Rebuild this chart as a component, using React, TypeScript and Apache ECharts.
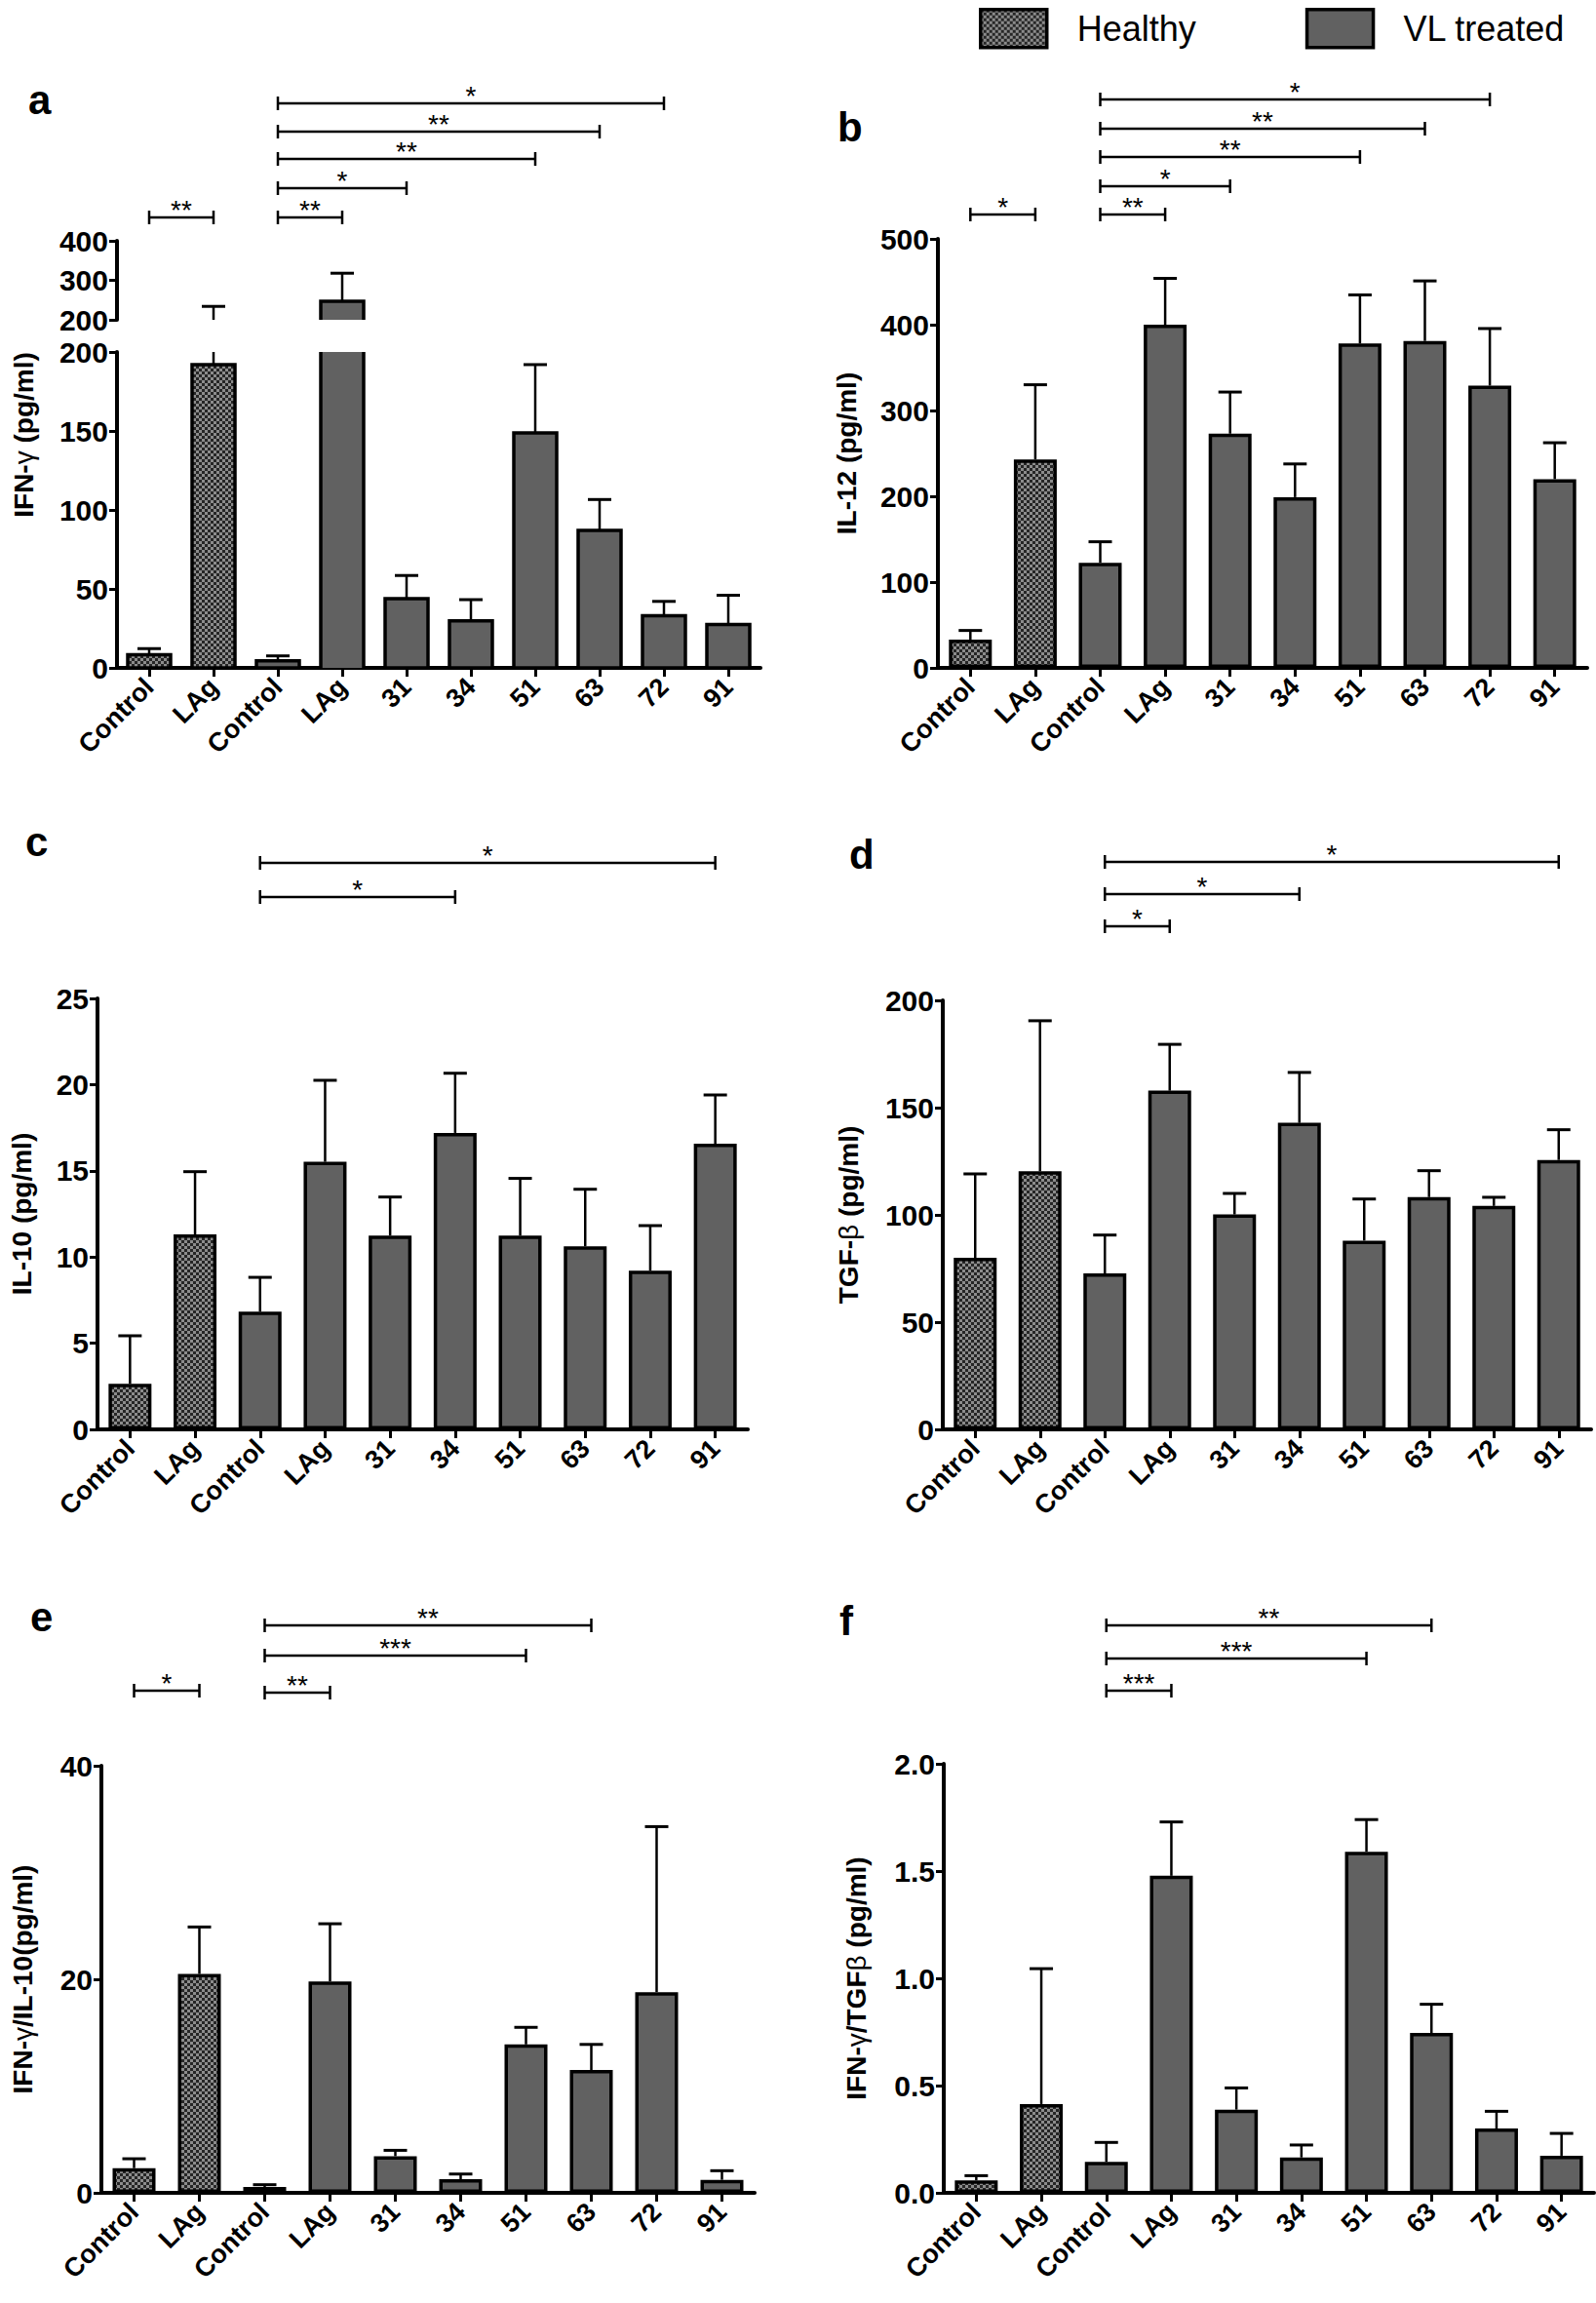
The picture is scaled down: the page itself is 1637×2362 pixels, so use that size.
import React, { useEffect, useRef } from "react";
import * as echarts from "echarts";

// ---------------- data ----------------
const categories = ["Control", "LAg", "Control", "LAg", "31", "34", "51", "63", "72", "91"];
const healthyCount = 2; // first two categories are the healthy group

const ifnMean = [8.3, 192, 4.5, 247, 43.8, 29.8, 148.8, 87, 33, 27.5];
const ifnErr = [12.2, 234, 7.6, 318, 58.5, 43.2, 192, 106.6, 42.1, 46];

const il12Mean = [33, 243, 122.5, 400, 273, 199, 378, 381, 329, 220];
const il12Err = [43.6, 330, 147, 454, 321.5, 237.7, 434.7, 451, 395.5, 262.4];

const il10Mean = [2.64, 11.31, 6.83, 15.52, 11.24, 17.2, 11.24, 10.62, 9.2, 16.57];
const il10Err = [5.43, 14.95, 8.82, 20.25, 13.48, 20.66, 14.56, 13.93, 11.82, 19.4];

const tgfMean = [80, 120.3, 72.7, 157.9, 100.2, 142.9, 88, 108.3, 104.2, 125.6];
const tgfErr = [119.1, 190.5, 90.6, 179.5, 110, 166.4, 107.4, 120.6, 108.2, 139.7];

const ifnIl10Mean = [2.31, 20.5, 0.55, 19.8, 3.43, 1.28, 13.9, 11.5, 18.8, 1.22];
const ifnIl10Err = [3.19, 24.9, 0.76, 25.2, 3.98, 1.76, 15.5, 13.9, 34.3, 2.07];

const ifnTgfMean = [0.058, 0.414, 0.144, 1.478, 0.388, 0.165, 1.59, 0.745, 0.3, 0.173];
const ifnTgfErr = [0.08, 1.045, 0.235, 1.729, 0.489, 0.223, 1.74, 0.879, 0.38, 0.277];

// significance: [from category, to category, label]
const sigA: [number, number, string][] = [[2, 8, "*"], [2, 7, "**"], [2, 6, "**"], [2, 4, "*"], [2, 3, "**"], [0, 1, "**"]];
const sigB: [number, number, string][] = [[2, 8, "*"], [2, 7, "**"], [2, 6, "**"], [2, 4, "*"], [2, 3, "**"], [0, 1, "*"]];
const sigC: [number, number, string][] = [[2, 9, "*"], [2, 5, "*"]];
const sigD: [number, number, string][] = [[2, 9, "*"], [2, 5, "*"], [2, 3, "*"]];
const sigE: [number, number, string][] = [[2, 7, "**"], [2, 6, "***"], [0, 1, "*"], [2, 3, "**"]];
const sigF: [number, number, string][] = [[2, 7, "**"], [2, 6, "***"], [2, 3, "***"]];

const seriesNames = ["Healthy", "VL treated"];

// ---------------- layout / style ----------------
const FONT = '"Liberation Sans", Arial, Helvetica, sans-serif';
const BAR_GRAY = "#616161";
const BAR_HALF = 22;
const BORDER = 3.5;

function checkerPattern() {
  const c = document.createElement("canvas");
  c.width = 6;
  c.height = 6;
  const ctx = c.getContext("2d")!;
  ctx.fillStyle = "#8c8c8c";
  ctx.fillRect(0, 0, 6, 6);
  ctx.fillStyle = "#262626";
  ctx.fillRect(0, 0, 3, 3);
  ctx.fillRect(3, 3, 3, 3);
  return { image: c, repeat: "repeat", imageWidth: 6, imageHeight: 6 } as any;
}

const greek = { fontWeight: "normal", fontSize: 28, fontFamily: FONT, color: "#000" };

export default function App() {
  const ref = useRef<HTMLDivElement>(null);

  useEffect(() => {
    if (!ref.current) return;
    const chart = echarts.init(ref.current, undefined, { renderer: "svg" });
    const pattern = checkerPattern();
    const yTickSize = 30;
    const xTickSize = 27;

    const grids: any[] = [];
    const xAxes: any[] = [];
    const yAxes: any[] = [];
    const series: any[] = [];

    const addGrid = (
      box: { left: number; top: number; width: number; height: number },
      y: { min: number; max: number; interval: number; fmt?: (v: number) => string },
      showX: boolean,
      name?: { text: string; gap: number }
    ) => {
      const gi = grids.length;
      grids.push({ ...box, containLabel: false });
      xAxes.push({
        gridIndex: gi,
        type: "category",
        data: categories,
        show: showX,
        axisLine: { show: true, lineStyle: { color: "#000", width: 4 } },
        axisTick: { show: true, alignWithLabel: true, length: 9, lineStyle: { color: "#000", width: 3 } },
        axisLabel: {
          interval: 0,
          rotate: 45,
          margin: 15,
          color: "#000",
          fontSize: xTickSize,
          fontWeight: "bold",
          fontFamily: FONT,
        },
        splitLine: { show: false },
      });
      yAxes.push({
        gridIndex: gi,
        type: "value",
        min: y.min,
        max: y.max,
        interval: y.interval,
        axisLine: { show: true, lineStyle: { color: "#000", width: 4 } },
        axisTick: { show: true, length: 8, lineStyle: { color: "#000", width: 3 } },
        axisLabel: {
          margin: 9,
          color: "#000",
          fontSize: yTickSize,
          fontWeight: "bold",
          fontFamily: FONT,
          formatter: y.fmt ? (v: number) => y.fmt!(v) : undefined,
        },
        splitLine: { show: false },
        name: name ? name.text : undefined,
        nameLocation: "middle",
        nameRotate: 90,
        nameGap: name ? name.gap : 0,
        nameTextStyle: {
          color: "#000",
          fontSize: 28,
          fontWeight: "bold",
          fontFamily: FONT,
          rich: { g: greek },
        },
      });
      return gi;
    };

    const errSeries = (gi: number, mean: number[], err: number[], segMin: number, segMax: number) => ({
      type: "custom",
      name: "error" + gi,
      xAxisIndex: gi,
      yAxisIndex: gi,
      z: 1,
      silent: true,
      data: mean.map((m, k) => [k, m, err[k]]),
      renderItem: (_p: any, api: any) => {
        const idx = api.value(0);
        const m = api.value(1);
        const e = api.value(2);
        const lo = Math.max(m, segMin);
        const hi = Math.min(e, segMax);
        if (!(hi > lo)) return null;
        const p0 = api.coord([idx, lo]);
        const p1 = api.coord([idx, hi]);
        const children: any[] = [
          { type: "line", shape: { x1: p0[0], y1: p0[1], x2: p1[0], y2: p1[1] }, style: { stroke: "#000", lineWidth: 2.5 } },
        ];
        if (e <= segMax) {
          children.push({
            type: "line",
            shape: { x1: p1[0] - 12, y1: p1[1], x2: p1[0] + 12, y2: p1[1] },
            style: { stroke: "#000", lineWidth: 3 },
          });
        }
        return { type: "group", children };
      },
    });

    const barPair = (gi: number, mean: number[]) => {
      series.push({
        type: "bar",
        name: seriesNames[0],
        xAxisIndex: gi,
        yAxisIndex: gi,
        barWidth: BAR_HALF * 2,
        barGap: "-100%",
        z: 2,
        data: mean.map((v, k) => (k < healthyCount ? v : "-")),
        itemStyle: { color: pattern, borderColor: "#000", borderWidth: BORDER },
      });
      series.push({
        type: "bar",
        name: seriesNames[1],
        xAxisIndex: gi,
        yAxisIndex: gi,
        barWidth: BAR_HALF * 2,
        barGap: "-100%",
        z: 2,
        data: mean.map((v, k) => (k >= healthyCount ? v : "-")),
        itemStyle: { color: BAR_GRAY, borderColor: "#000", borderWidth: BORDER },
      });
    };

    // bars for the broken axis panel (open edges at the break)
    const segBars = (gi: number, items: number[][], fill: any, segMin: number, segMax: number, name: string) => ({
      type: "custom",
      name,
      xAxisIndex: gi,
      yAxisIndex: gi,
      z: 2,
      data: items,
      renderItem: (_p: any, api: any) => {
        const idx = api.value(0);
        const v = api.value(1);
        const hi = Math.min(v, segMax);
        if (!(hi > segMin)) return null;
        const pLo = api.coord([idx, segMin]);
        const pHi = api.coord([idx, hi]);
        const x0 = pLo[0] - BAR_HALF;
        const x1 = pLo[0] + BAR_HALF;
        const yLo = pLo[1];
        const yHi = pHi[1];
        const edge = { stroke: "#000", lineWidth: BORDER, fill: "none" };
        if (v <= segMax && segMin === 0) {
          return {
            type: "rect",
            shape: { x: x0, y: yHi, width: x1 - x0, height: yLo - yHi },
            style: { fill, stroke: "#000", lineWidth: BORDER },
          };
        }
        const children: any[] = [
          { type: "rect", shape: { x: x0, y: yHi, width: x1 - x0, height: yLo - yHi }, style: { fill } },
        ];
        if (v <= segMax) {
          children.push({ type: "polyline", shape: { points: [[x0, yLo], [x0, yHi], [x1, yHi], [x1, yLo]] }, style: edge });
        } else {
          children.push({ type: "line", shape: { x1: x0, y1: yLo, x2: x0, y2: yHi }, style: edge });
          children.push({ type: "line", shape: { x1: x1, y1: yLo, x2: x1, y2: yHi }, style: edge });
        }
        return { type: "group", children };
      },
    });

    // ---- panel a (broken axis) ----
    const aLow = addGrid({ left: 120, top: 361, width: 660, height: 324 }, { min: 0, max: 200, interval: 50 }, true);
    const aUp = addGrid({ left: 120, top: 247, width: 660, height: 81 }, { min: 200, max: 400, interval: 100 }, false);
    const ifnItems = ifnMean.map((v, k) => [k, v]);
    const ifnHealthy = ifnItems.filter((d) => d[0] < healthyCount);
    const ifnVL = ifnItems.filter((d) => d[0] >= healthyCount);
    [[aLow, 0, 200], [aUp, 200, 400]].forEach(([gi, lo, hi]) => {
      series.push(segBars(gi, ifnHealthy, pattern, lo, hi, "IFN healthy " + gi));
      series.push(segBars(gi, ifnVL, BAR_GRAY, lo, hi, "IFN VL " + gi));
      series.push(errSeries(gi, ifnMean, ifnErr, lo, hi));
    });

    // ---- panels b-f ----
    const panelDefs = [
      { box: { left: 962, top: 245, width: 666, height: 440 }, y: { min: 0, max: 500, interval: 100 }, mean: il12Mean, err: il12Err, name: { text: "IL-12 (pg/ml)", gap: 80 } },
      { box: { left: 100, top: 1024, width: 667, height: 442 }, y: { min: 0, max: 25, interval: 5 }, mean: il10Mean, err: il10Err, name: { text: "IL-10 (pg/ml)", gap: 64 } },
      { box: { left: 967, top: 1026, width: 665, height: 440 }, y: { min: 0, max: 200, interval: 50 }, mean: tgfMean, err: tgfErr, name: { text: "TGF-{g|β} (pg/ml)", gap: 83 } },
      { box: { left: 104, top: 1811, width: 670, height: 438 }, y: { min: 0, max: 40, interval: 20 }, mean: ifnIl10Mean, err: ifnIl10Err, name: { text: "IFN-{g|γ}/IL-10(pg/ml)", gap: 67 } },
      { box: { left: 968, top: 1809, width: 667, height: 440 }, y: { min: 0, max: 2, interval: 0.5, fmt: (v: number) => v.toFixed(1) }, mean: ifnTgfMean, err: ifnTgfErr, name: { text: "IFN-{g|γ}/TGF{g|β} (pg/ml)", gap: 76 } },
    ];
    const panelGrids = panelDefs.map((p) => {
      const gi = addGrid(p.box, p.y, true, p.name);
      barPair(gi, p.mean);
      series.push(errSeries(gi, p.mean, p.err, 0, Infinity));
      return gi;
    });

    chart.setOption({
      animation: false,
      backgroundColor: "#fff",
      textStyle: { fontFamily: FONT },
      legend: {
        data: seriesNames,
        left: 999,
        top: 3,
        itemWidth: 68,
        itemHeight: 39,
        itemGap: 112,
        icon: "rect",
        selectedMode: false,
        itemStyle: { borderColor: "#000", borderWidth: BORDER },
        textStyle: { fontSize: 36, fontFamily: FONT, color: "#000", padding: [0, 0, 0, 26] },
      },
      grid: grids,
      xAxis: xAxes,
      yAxis: yAxes,
      series,
    });

    // ---- annotations: panel letters, broken-axis title, significance brackets ----
    const px = (gi: number, idx: number) => chart.convertToPixel({ xAxisIndex: gi } as any, idx) as unknown as number;
    const g: any[] = [];
    const letters: [string, number, number][] = [
      ["a", 29, 102], ["b", 859, 130], ["c", 26, 863], ["d", 871, 876], ["e", 31, 1658], ["f", 861, 1662],
    ];
    letters.forEach(([t, x, y]) =>
      g.push({
        type: "text",
        x,
        y,
        style: { text: t, fontSize: 42, fontWeight: "bold", fontFamily: FONT, fill: "#000", verticalAlign: "middle", textVerticalAlign: "middle" },
      })
    );
    g.push({
      type: "text",
      x: 24,
      y: 446,
      rotation: Math.PI / 2,
      style: {
        text: "IFN-{g|γ} (pg/ml)",
        rich: { g: { fontWeight: "normal", fontSize: 28, fontFamily: FONT, fill: "#000" } },
        fontSize: 28,
        fontWeight: "bold",
        fontFamily: FONT,
        fill: "#000",
        align: "center",
        textAlign: "center",
        verticalAlign: "middle",
        textVerticalAlign: "middle",
      },
    });

    const bracketSets: [number, [number, number, string][], number[]][] = [
      [aLow, sigA, [106, 135, 163, 193, 223, 223]],
      [panelGrids[0], sigB, [102, 132, 161, 191, 220, 220]],
      [panelGrids[1], sigC, [885, 920]],
      [panelGrids[2], sigD, [884, 917, 950]],
      [panelGrids[3], sigE, [1667, 1698, 1734, 1736]],
      [panelGrids[4], sigF, [1667, 1701, 1734]],
    ];
    bracketSets.forEach(([gi, sig, ys]) => {
      sig.forEach(([from, to, label], i) => {
        const x1 = px(gi, from);
        const x2 = px(gi, to);
        const y = ys[i];
        const st = { stroke: "#000", lineWidth: 2.5 };
        g.push({ type: "line", shape: { x1, y1: y, x2, y2: y }, style: st });
        g.push({ type: "line", shape: { x1, y1: y - 7, x2: x1, y2: y + 7 }, style: st });
        g.push({ type: "line", shape: { x1: x2, y1: y - 7, x2, y2: y + 7 }, style: st });
        g.push({
          type: "text",
          x: (x1 + x2) / 2,
          y: y - 8,
          style: {
            text: label,
            fontSize: 28,
            fontFamily: FONT,
            fill: "#000",
            align: "center",
            textAlign: "center",
            verticalAlign: "middle",
            textVerticalAlign: "middle",
          },
        });
      });
    });
    chart.setOption({ graphic: g });

    return () => chart.dispose();
  }, []);

  return (
    <div
      ref={ref}
      style={{ position: "absolute", left: 0, top: 0, width: 1637, height: 2362, background: "#fff" }}
    />
  );
}
